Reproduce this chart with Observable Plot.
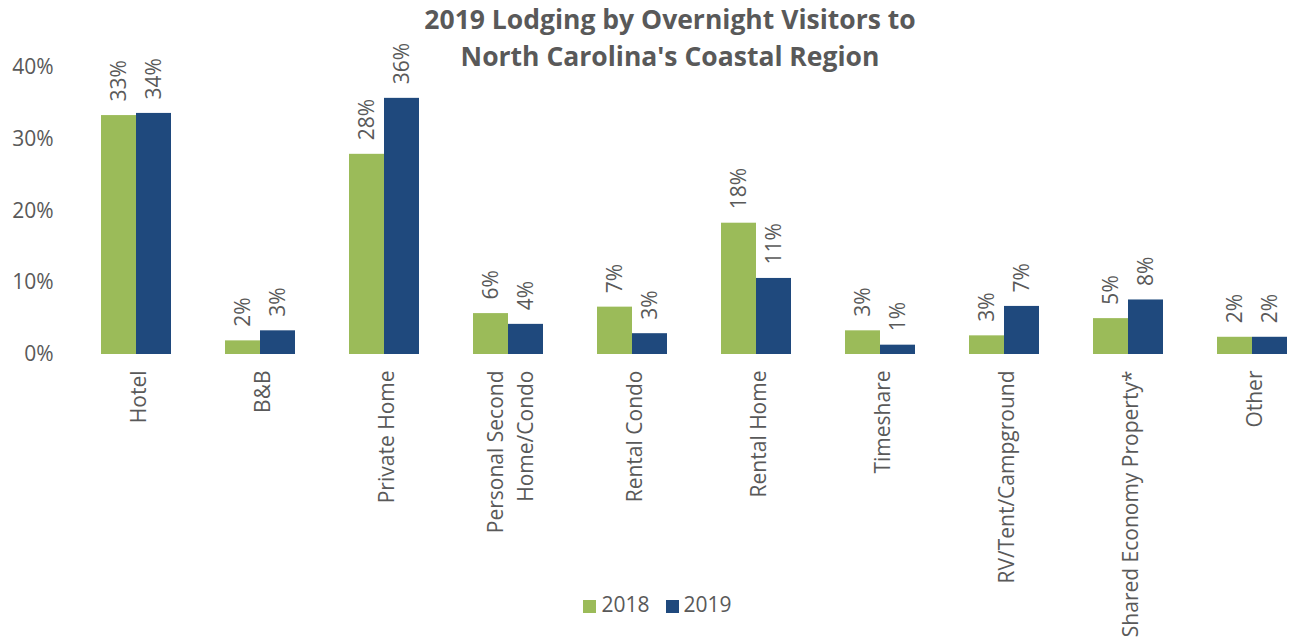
<!DOCTYPE html>
<html>
<head>
<meta charset="utf-8">
<script src="https://cdn.jsdelivr.net/npm/d3@7"></script>
<script src="https://cdn.jsdelivr.net/npm/@observablehq/plot@0.6"></script>
<style>
  body { margin: 0; background: #fff; font-family: "Open Sans", sans-serif; color: #595959; }
  #wrap { position: relative; width: 1298px; height: 637px; overflow: hidden; background: #fff; }
  #chart { position: absolute; left: 0; top: 0; }
  #title { position: absolute; left: 0; top: 1px; width: 1340px; text-align: center; font-weight: 700; font-size: 26.5px; line-height: 37px; color: #595959; }
  #legend { position: absolute; left: 0; top: 589px; width: 1315px; text-align: center; font-size: 21px; line-height: 30px; color: #595959; }
  .item { display: inline-block; margin: 0 8px; }
  .sw { display: inline-block; width: 13px; height: 13px; margin-right: 5px; vertical-align: -1px; }
</style>
</head>
<body>
<div id="wrap">
  <div id="chart"></div>
  <div id="title"></div>
  <div id="legend"></div>
</div>
<script>
const titleLines = ["2019 Lodging by Overnight Visitors to", "North Carolina's Coastal Region"];
const categories = ["Hotel", "B&B", "Private Home", "Personal Second\nHome/Condo", "Rental Condo", "Rental Home", "Timeshare", "RV/Tent/Campground", "Shared Economy Property*", "Other"];
const years = ["2018", "2019"];
const values2018 = [33.3, 1.9, 27.9, 5.7, 6.6, 18.3, 3.3, 2.6, 5.0, 2.4];
const values2019 = [33.6, 3.3, 35.7, 4.2, 2.9, 10.6, 1.3, 6.7, 7.6, 2.4];
const yTicks = [0, 10, 20, 30, 40];
const colors = ["#9BBB59", "#1F497D"];

const data = categories.flatMap((c, i) => [
  {category: c, year: years[0], value: values2018[i]},
  {category: c, year: years[1], value: values2019[i]}
]);

const chart = Plot.plot({
  width: 1298,
  height: 637,
  marginTop: 67,
  marginBottom: 283,
  marginLeft: 71,
  marginRight: -18,
  style: {fontFamily: "Open Sans", fontSize: "21px", color: "#595959", background: "transparent"},
  fx: {domain: categories, padding: 0, axis: null},
  x: {domain: years, paddingInner: 0, paddingOuter: 0.75, axis: null},
  y: {domain: [0, 40], axis: null},
  color: {domain: years, range: colors},
  marks: [
    Plot.axisY({ticks: yTicks, tickFormat: d => d + "%", tickSize: 0, tickPadding: 21, label: null, fontSize: 21, fill: "#595959"}),
    Plot.barY(data, {fx: "category", x: "year", y: "value", fill: "year"}),
    Plot.text(data, {fx: "category", x: "year", y: "value", text: d => Math.round(d.value) + "%", rotate: -90, textAnchor: "start", lineAnchor: "middle", dy: -14, fill: "#595959", fontSize: 21}),
    Plot.text(categories, {fx: d => d, text: d => d, frameAnchor: "bottom", rotate: -90, textAnchor: "end", lineAnchor: "middle", dy: 16, fill: "#595959", fontSize: 21, lineHeight: 1.45})
  ]
});
document.getElementById("chart").appendChild(chart);

document.getElementById("title").innerHTML = titleLines.join("<br>");
document.getElementById("legend").innerHTML = years.map((y, i) =>
  `<span class="item"><span class="sw" style="background:${colors[i]}"></span>${y}</span>`).join("");
</script>
</body>
</html>
